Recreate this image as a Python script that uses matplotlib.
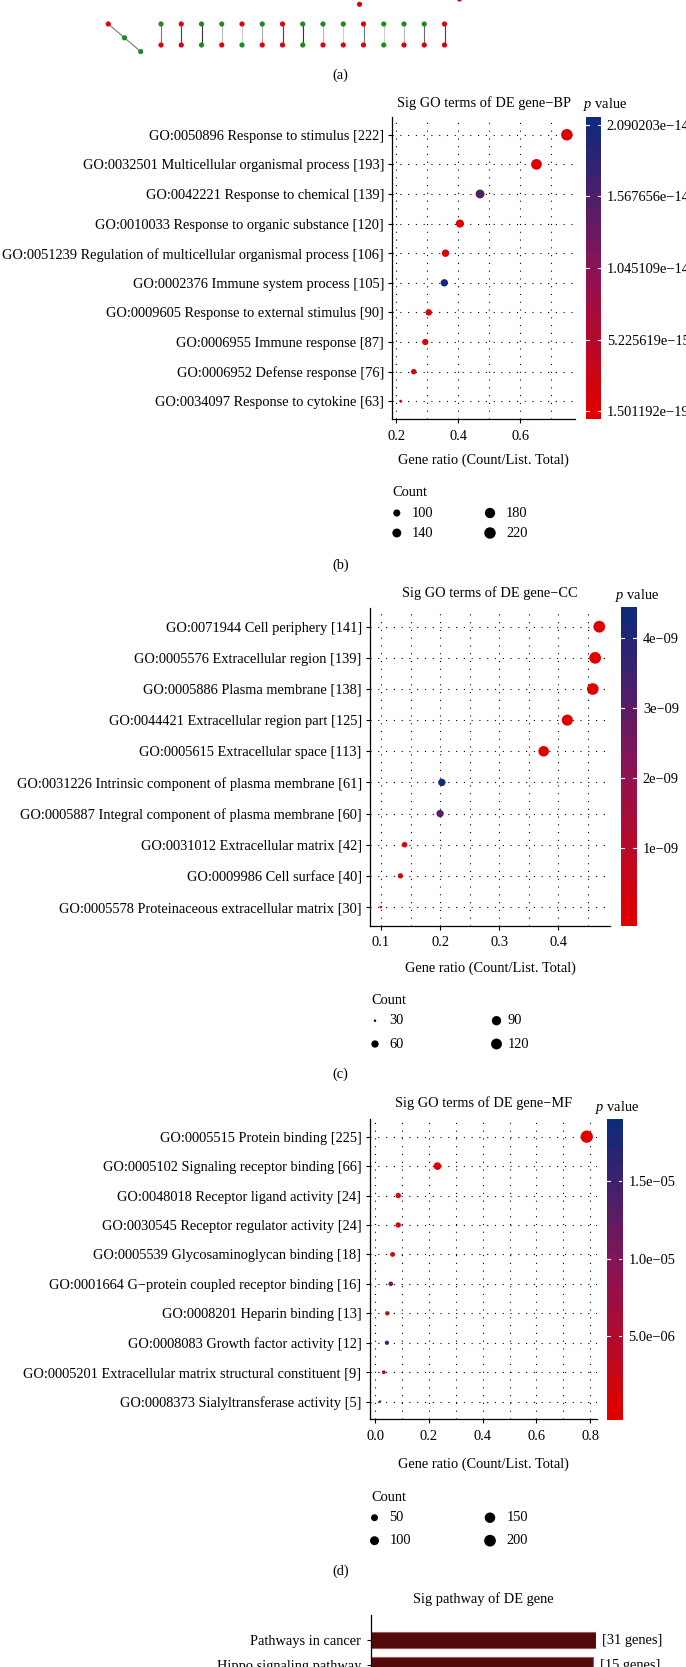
import numpy as np
import matplotlib.pyplot as plt
from matplotlib.colors import LinearSegmentedColormap, Normalize

plt.rcParams['font.family'] = ['Liberation Serif', 'DejaVu Serif']
plt.rcParams['mathtext.fontset'] = 'custom'
plt.rcParams['mathtext.rm'] = 'Liberation Serif'
plt.rcParams['mathtext.it'] = 'Liberation Serif:italic'

# ---- data ----
# (a) network: colour of upper / lower node of each two-gene module
net_top = ['g', 'r', 'g', 'g', 'r', 'g', 'r', 'g', 'g', 'g', 'r', 'g', 'g', 'g', 'r']
net_bottom = ['r', 'r', 'g', 'r', 'g', 'r', 'r', 'g', 'r', 'r', 'r', 'g', 'r', 'r', 'r']
net_edge_grey = ['#777777', '#444444', '#333333', '#bbbbbb', '#cccccc', '#aaaaaa', '#444444', '#333333',
                 '#bbbbbb', '#cccccc', '#777777', '#cccccc', '#bbbbbb', '#666666', '#444444']
chain_colors = ['r', 'g', 'g']

# (b) BP
bp_terms = ['GO:0050896 Response to stimulus [222]',
            'GO:0032501 Multicellular organismal process [193]',
            'GO:0042221 Response to chemical [139]',
            'GO:0010033 Response to organic substance [120]',
            'GO:0051239 Regulation of multicellular organismal process [106]',
            'GO:0002376 Immune system process [105]',
            'GO:0009605 Response to external stimulus [90]',
            'GO:0006955 Immune response [87]',
            'GO:0006952 Defense response [76]',
            'GO:0034097 Response to cytokine [63]']
bp_count = [222, 193, 139, 120, 106, 105, 90, 87, 76, 63]
bp_ratio = [0.7515, 0.653, 0.4706, 0.4055, 0.359, 0.355, 0.3046, 0.2935, 0.256, 0.214]
bp_pvalue = [1.501192e-19, 3.4e-17, 1.52e-14, 2.1e-16, 8.0e-16, 2.090203e-14, 5.5e-16, 1.1e-15, 9.0e-16, 4.0e-16]
bp_pv_labels = ['1.501192e\u221219', '5.225619e\u221215', '1.045109e\u221214', '1.567656e\u221214', '2.090203e\u221214']

# (c) CC
cc_terms = ['GO:0071944 Cell periphery [141]',
            'GO:0005576 Extracellular region [139]',
            'GO:0005886 Plasma membrane [138]',
            'GO:0044421 Extracellular region part [125]',
            'GO:0005615 Extracellular space [113]',
            'GO:0031226 Intrinsic component of plasma membrane [61]',
            'GO:0005887 Integral component of plasma membrane [60]',
            'GO:0031012 Extracellular matrix [42]',
            'GO:0009986 Cell surface [40]',
            'GO:0005578 Proteinaceous extracellular matrix [30]']
cc_count = [141, 139, 138, 125, 113, 61, 60, 42, 40, 30]
cc_ratio = [0.469, 0.462, 0.458, 0.415, 0.375, 0.203, 0.200, 0.140, 0.133, 0.100]
cc_pvalue = [2.1e-12, 1.5e-13, 3.9e-11, 8.7e-12, 2.4e-12, 4.32e-9, 3.05e-9, 5.6e-11, 1.9e-10, 1.1e-10]
cc_pv_ticks = [1e-9, 2e-9, 3e-9, 4e-9]
cc_pv_labels = ['1e\u221209', '2e\u221209', '3e\u221209', '4e\u221209']

# (d) MF
mf_terms = ['GO:0005515 Protein binding [225]',
            'GO:0005102 Signaling receptor binding [66]',
            'GO:0048018 Receptor ligand activity [24]',
            'GO:0030545 Receptor regulator activity [24]',
            'GO:0005539 Glycosaminoglycan binding [18]',
            'GO:0001664 G\u2212protein coupled receptor binding [16]',
            'GO:0008201 Heparin binding [13]',
            'GO:0008083 Growth factor activity [12]',
            'GO:0005201 Extracellular matrix structural constituent [9]',
            'GO:0008373 Sialyltransferase activity [5]']
mf_count = [225, 66, 24, 24, 18, 16, 13, 12, 9, 5]
mf_ratio = [0.787, 0.2315, 0.0856, 0.0856, 0.0647, 0.058, 0.045, 0.0436, 0.032, 0.0177]
mf_pvalue = [2.1e-12, 4.5e-9, 6.2e-7, 1.3e-6, 4.1e-7, 1.02e-5, 1.9e-6, 1.58e-5, 2.4e-6, 1.855e-5]
mf_pv_ticks = [5e-6, 1e-5, 1.5e-5]
mf_pv_labels = ['5.0e\u221206', '1.0e\u221205', '1.5e\u221205']

# (e) pathways
pathways = ['Pathways in cancer', 'Hippo signaling pathway']
pathway_genes = [31, 15]
pathway_score = [6.12, 6.05]

# ---- figure ----
W, H = 686, 1667
FS = 10.4
fig = plt.figure(figsize=(W / 100, H / 100), dpi=100)
cmap = LinearSegmentedColormap.from_list('pv', ['#E00000', '#8A1457', '#112A7B'])
node_col = {'r': '#E0000F', 'g': '#1F8A1F'}


def box(left, top, right, bottom):
    return [left / W, 1 - bottom / H, (right - left) / W, (bottom - top) / H]


def px2pt2(d):
    return (d * 0.72) ** 2


ov = fig.add_axes([0, 0, 1, 1])
ov.set_xlim(0, W)
ov.set_ylim(H, 0)
ov.axis('off')

# network (a)
pair_x = 161 + 20.25 * np.arange(len(net_top))
for i in range(len(net_top)):
    ov.plot([pair_x[i], pair_x[i]], [24, 45], color=net_edge_grey[i], lw=0.8, zorder=1)
    ov.scatter([pair_x[i], pair_x[i]], [24, 45], s=px2pt2(5.2),
               c=[node_col[net_top[i]], node_col[net_bottom[i]]], zorder=2, edgecolors='none')
chain_x = 108.3 + 16.2 * np.arange(3)
chain_y = 24 + 13.8 * np.arange(3)
ov.plot(chain_x, chain_y, color='#777777', lw=0.8, zorder=1)
ov.scatter(chain_x, chain_y, s=px2pt2(5.2), c=[node_col[c] for c in chain_colors], zorder=2, edgecolors='none')
ov.scatter([359.5, 459.5], [4.3, -1.0], s=px2pt2(5.2), c=node_col['r'], zorder=2, edgecolors='none')

for lab, y in [('(a)', 75), ('(b)', 565), ('(c)', 1074.3), ('(d)', 1571.7)]:
    ov.text(340.3, y, lab, ha='center', va='center', fontsize=FS)


def dot_panel(terms, ratio, count, pv, L, title, ticks, tick_labels, legend_counts, xmajor, xminor):
    n = len(terms)
    ax = fig.add_axes(box(*L['ax']))
    lo, hi = min(ratio), max(ratio)
    pad = (hi - lo) * 0.05
    ax.set_xlim(lo - pad, hi + pad)
    ax.set_ylim(n - 0.4, -0.6)
    cmin, cmax = min(count), max(count)
    dmin, dmax = L['d']

    def size(v):
        d = dmin + (dmax - dmin) * np.sqrt((np.asarray(v, float) - cmin) / (cmax - cmin))
        return px2pt2(d)

    vmin, vmax = min(pv), max(pv)
    norm = Normalize(vmin, vmax)
    ax.scatter(ratio, np.arange(n), s=size(count), c=pv, cmap=cmap, norm=norm, edgecolors='none', zorder=3)
    ax.set_yticks(np.arange(n))
    ax.set_yticklabels(terms)
    ax.set_xticks(xmajor)
    ax.set_xticks(xminor, minor=True)
    ax.tick_params(axis='x', which='minor', length=0)
    ax.tick_params(which='major', length=2.6, width=0.8, labelsize=FS, color='black')
    ax.tick_params(axis='x', pad=5.0)
    ax.tick_params(axis='y', pad=3.3)
    ax.grid(True, which='both', axis='x', color='black', lw=0.8, ls=(0, (1, 6)))
    ax.grid(True, which='major', axis='y', color='black', lw=0.8, ls=(0, (1, 6)))
    ax.set_axisbelow(True)
    for s in ['top', 'right']:
        ax.spines[s].set_visible(False)
    for s in ['left', 'bottom']:
        ax.spines[s].set_linewidth(0.9)

    l, t, r, b = L['ax']
    ov.text((l + r) / 2, L['title_y'], title, ha='center', va='center', fontsize=FS)
    ov.text((l + r) / 2, L['xlabel_y'], 'Gene ratio (Count/List. Total)', ha='center', va='center', fontsize=FS)
    ov.text(L['pv'][0], L['pv'][1], '$p$ value', ha='left', va='center', fontsize=FS)

    # colour bar (20 bins, like ggplot)
    half = (vmax - vmin) / 19 / 2
    cax = fig.add_axes(box(*L['cbar']))
    cax.imshow(np.linspace(vmin, vmax, 20).reshape(-1, 1), cmap=cmap, norm=norm, origin='lower',
               aspect='auto', extent=(0, 1, vmin - half, vmax + half), interpolation='nearest')
    cax.set_xlim(0, 1)
    cax.set_ylim(vmin - half, vmax + half)
    cax.set_xticks([])
    cax.yaxis.tick_right()
    cax.set_yticks(ticks)
    cax.set_yticklabels(tick_labels)
    cax.tick_params(axis='y', length=0, pad=4.5, labelsize=FS)
    for s in cax.spines.values():
        s.set_visible(False)
    for tk in ticks:
        cax.plot([0, 0.2], [tk, tk], color='white', lw=0.8)
        cax.plot([0.8, 1], [tk, tk], color='white', lw=0.8)

    # size legend
    lx, ly = L['count']
    ov.text(lx, ly, 'Count', ha='left', va='center', fontsize=FS)
    for k, v in enumerate(legend_counts):
        mx, tx = L['cols'][k // 2]
        yy = L['rows'][k % 2]
        ov.scatter([mx], [yy], s=size(v), color='black', edgecolors='none')
        ov.text(tx, yy, str(v), ha='left', va='center', fontsize=FS)


bp_ticks = np.linspace(min(bp_pvalue), max(bp_pvalue), len(bp_pv_labels))
dot_panel(bp_terms, bp_ratio, bp_count, bp_pvalue,
          dict(ax=(392.4, 117, 575.2, 419), d=(3.0, 11.5), title_y=102.7, xlabel_y=460, pv=(583, 104),
               cbar=(586.2, 117, 600.6, 419), count=(392.4, 492.7), cols=[(396.8, 411.2), (490, 506)],
               rows=[513, 533]),
          'Sig GO terms of DE gene\u2212BP', bp_ticks, bp_pv_labels, [100, 140, 180, 220],
          [0.2, 0.4, 0.6], [0.3, 0.5, 0.7])

dot_panel(cc_terms, cc_ratio, cc_count, cc_pvalue,
          dict(ax=(370, 608, 610.2, 925.7), d=(2.5, 11.8), title_y=592.7, xlabel_y=968, pv=(614.6, 595.7),
               cbar=(621, 607.3, 636.6, 925.7), count=(371, 1000), cols=[(375, 389.3), (496.5, 507.4)],
               rows=[1020.7, 1044]),
          'Sig GO terms of DE gene\u2212CC', cc_pv_ticks, cc_pv_labels,
          [30, 60, 90, 120], [0.1, 0.2, 0.3, 0.4], [0.15, 0.25, 0.35, 0.45])

dot_panel(mf_terms, mf_ratio, mf_count, mf_pvalue,
          dict(ax=(369.6, 1119, 597.1, 1419.3), d=(2.5, 12.3), title_y=1103.3, xlabel_y=1464.3, pv=(595, 1107.7),
               cbar=(606.7, 1119, 622.2, 1420.5), count=(371.8, 1497.7), cols=[(374.5, 389.3), (490, 506.6)],
               rows=[1517.7, 1540.7]),
          'Sig GO terms of DE gene\u2212MF', mf_pv_ticks, mf_pv_labels,
          [50, 100, 150, 200], [0.0, 0.2, 0.4, 0.6, 0.8], [0.1, 0.3, 0.5, 0.7])

# pathway bar chart (cut at page bottom, as in the source page)
bx = fig.add_axes(box(370.7, 1615, 596, 1725))
yy = np.arange(len(pathways))
bx.barh(yy, pathway_score, height=0.64, color='#520A0A', edgecolor='#9B5B5B', lw=0.8)
bx.set_xlim(0, max(pathway_score))
bx.set_ylim(3.4, -1.0)
bx.set_yticks(yy)
bx.set_yticklabels(pathways)
bx.set_xticks([])
bx.tick_params(axis='y', length=2.6, width=0.8, pad=4.3, labelsize=FS)
for s in ['top', 'right', 'bottom']:
    bx.spines[s].set_visible(False)
bx.spines['left'].set_linewidth(0.9)
for i, g in enumerate(pathway_genes):
    bx.annotate('[%d genes]' % g, (pathway_score[i], i), xytext=(4.5, 0), textcoords='offset points',
                ha='left', va='center', fontsize=FS, annotation_clip=False)
ov.text(483.4, 1599.3, 'Sig pathway of DE gene', ha='center', va='center', fontsize=FS)

fig.savefig('out.png', dpi=100)
